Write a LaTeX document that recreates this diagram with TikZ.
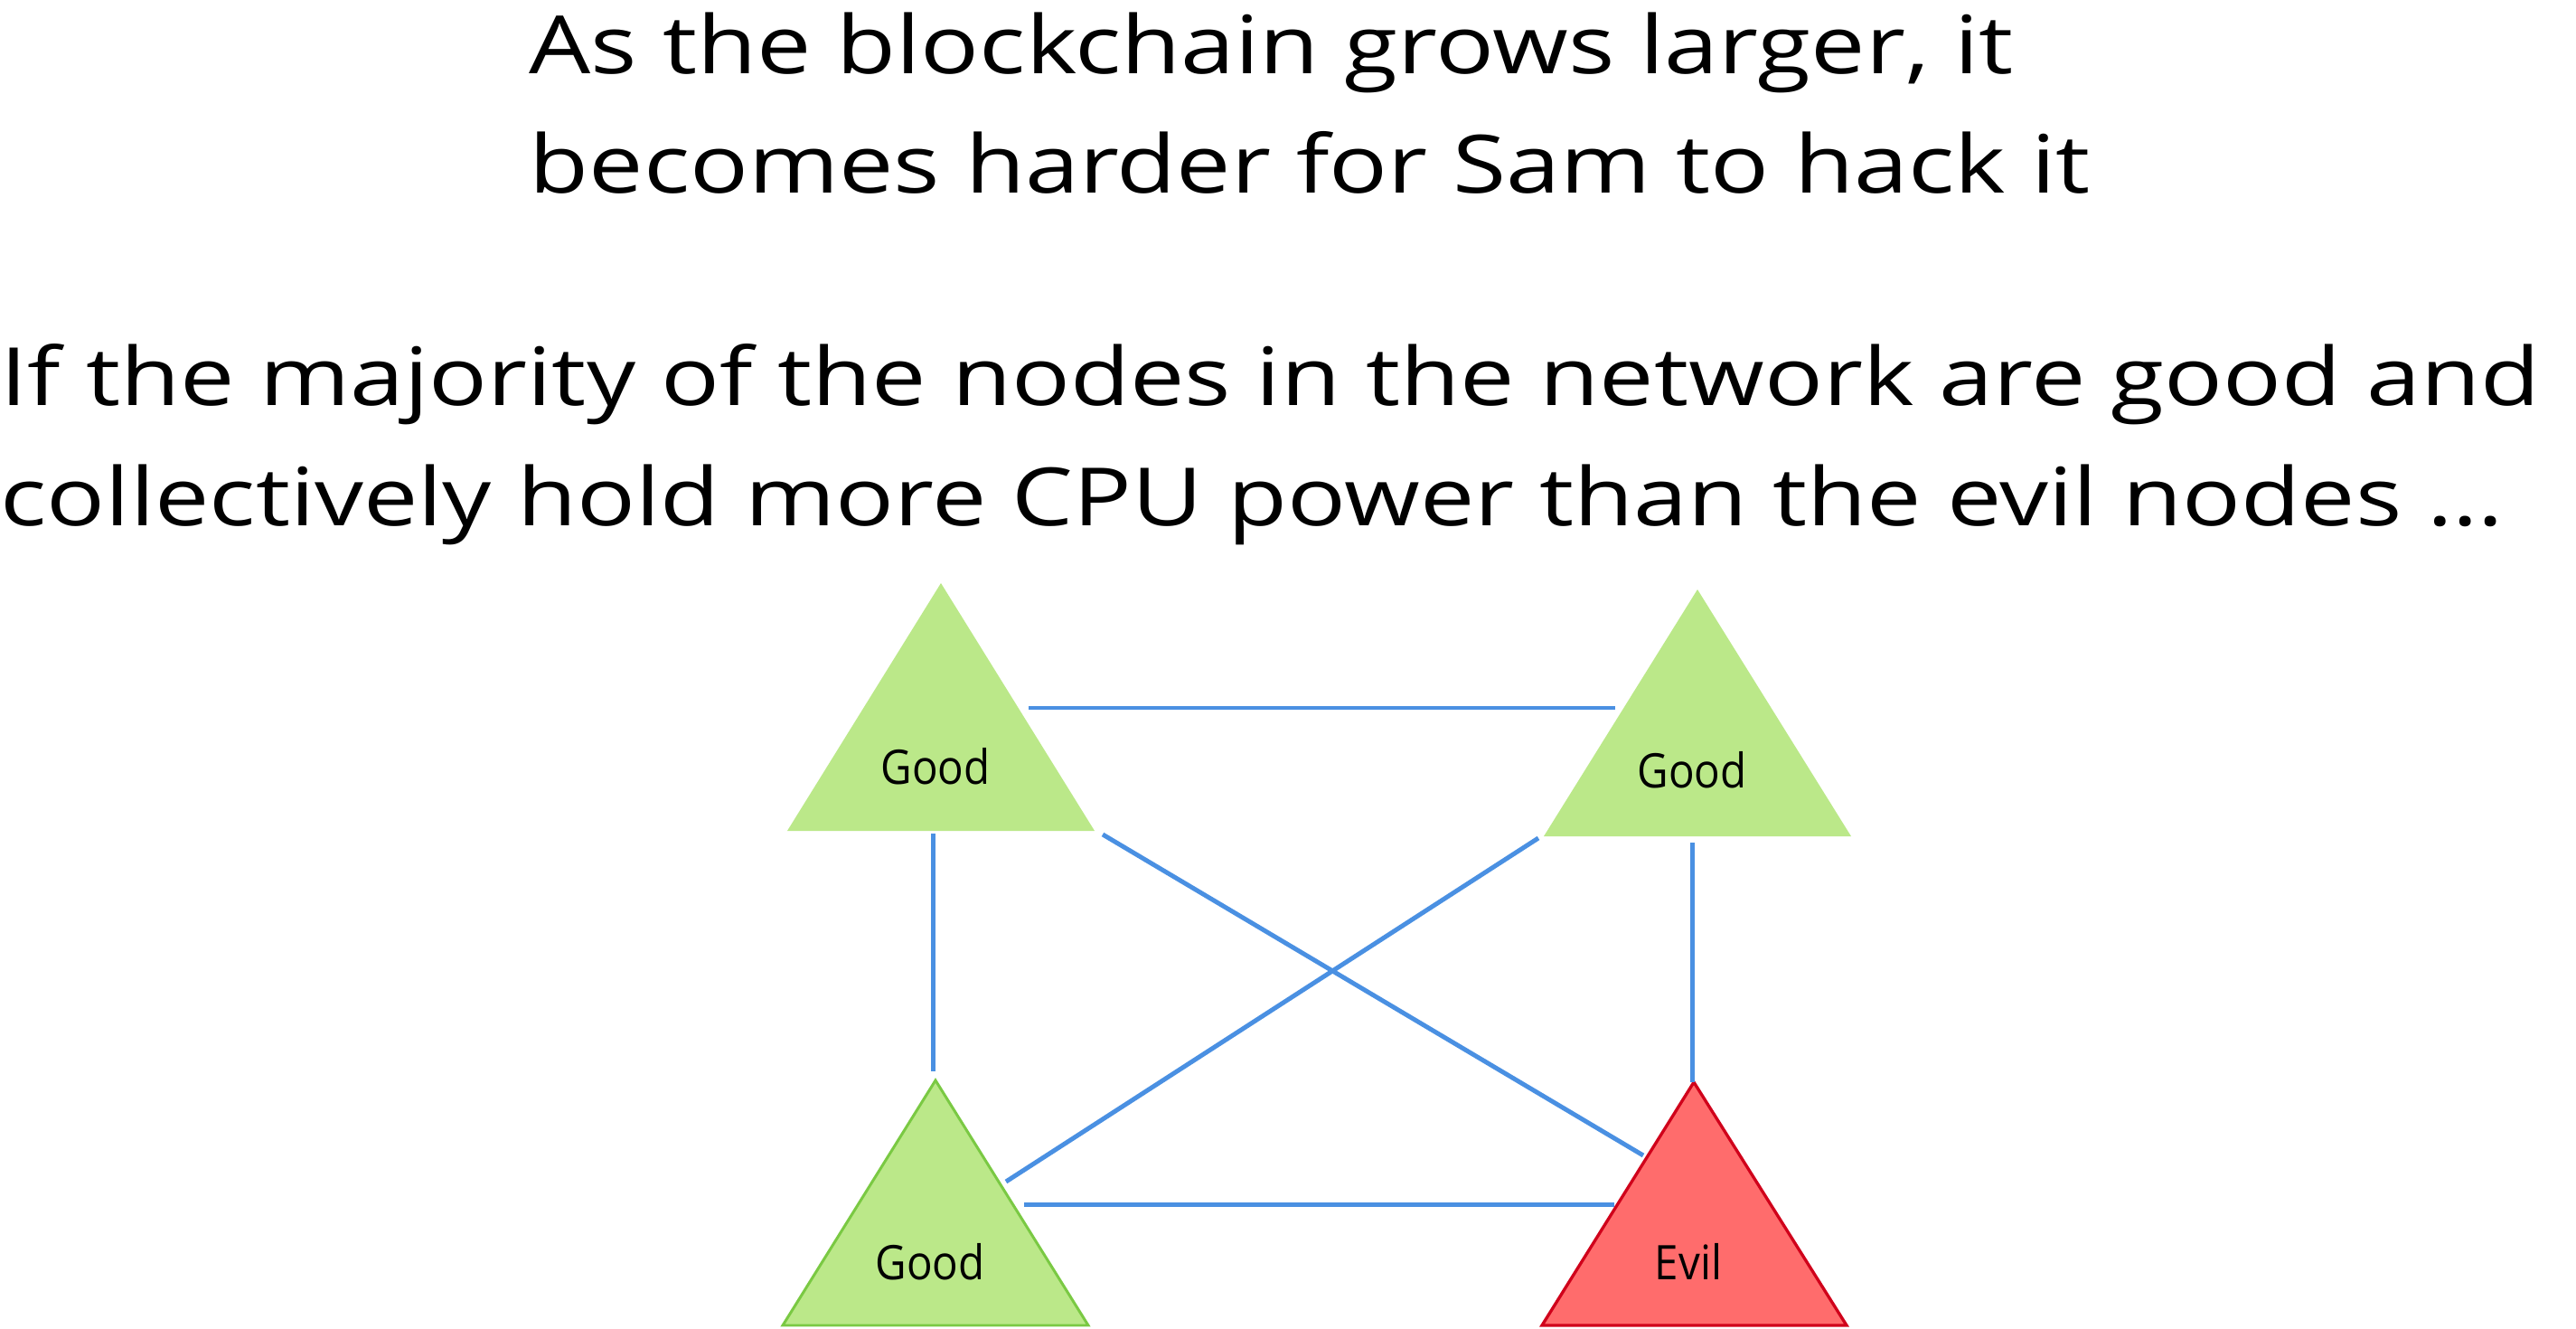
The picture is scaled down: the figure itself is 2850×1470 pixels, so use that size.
\documentclass[tikz,border=0pt]{standalone}
\usepackage{fontspec}
\setmainfont{Open Sans}
\newfontfamily\titlefont[FakeStretch=1.21]{Open Sans}
\newfontfamily\lblfont[FakeStretch=0.9]{Open Sans}
\definecolor{linkblue}{HTML}{4A90E2}
\definecolor{goodgreen}{HTML}{BBE889}
\definecolor{goodedge}{HTML}{7AC943}
\definecolor{evilred}{HTML}{FF6C6C}
\definecolor{eviledge}{HTML}{D0021B}
\begin{document}
\begin{tikzpicture}[x=0.01cm,y=-0.01cm,
  title/.style={font=\titlefont\fontsize{25.3}{30}\selectfont, anchor=base west, inner sep=0pt},
  lbl/.style={font=\lblfont\fontsize{15}{18}\selectfont, anchor=base, inner sep=0pt},
  link/.style={draw=linkblue, line width=1.42pt},
  goodtri/.style={fill=goodgreen},
  goodtriedge/.style={fill=goodgreen, draw=goodedge, line width=0.85pt, line join=miter},
  eviltri/.style={fill=evilred, draw=eviledge, line width=0.95pt, line join=miter}]
\useasboundingbox (0,0) rectangle (2850,1470);
% titles
\node[title] (t1) at (585,82) {As the blockchain grows larger, it};
\node[title] (t2) at (585,214) {becomes harder for Sam to hack it};
\node[title] (t3) at (0,449) {If the majority of the nodes in the network are good and};
\node[title] (t4) at (0,582) {collectively hold more CPU power than the evil nodes …};
% triangles
\path[goodtri] (1041,645) -- (1211,919) -- (871,919) -- cycle;
\path[goodtri] (1878,652) -- (2048,925) -- (1708,925) -- cycle;
\path[goodtriedge] (1035,1195) -- (1204,1466) -- (866,1466) -- cycle;
\path[eviltri] (1874,1197) -- (2043,1466) -- (1706,1466) -- cycle;
% labels
\node[lbl] (g1) at (1035,867) {Good};
\node[lbl] (g2) at (1872,872) {Good};
\node[lbl] (g3) at (1029,1415) {Good};
\node[lbl] (e1) at (1868,1415) {Evil};
% connector ends
\coordinate (a1) at (1138,783); \coordinate (b1) at (1787,783);
\coordinate (a2) at (1032,922); \coordinate (b2) at (1032,1185);
\coordinate (a3) at (1872,932); \coordinate (b3) at (1872,1197);
\coordinate (a4) at (1220,923); \coordinate (b4) at (1818,1278);
\coordinate (a5) at (1702,927); \coordinate (b5) at (1113,1307);
\coordinate (a6) at (1133,1332); \coordinate (b6) at (1786,1332);
\draw[link] (a1) -- (b1);
\draw[link] (a2) -- (b2);
\draw[link] (a3) -- (b3);
\draw[link] (a4) -- (b4);
\draw[link] (a5) -- (b5);
\draw[link] (a6) -- (b6);
\end{tikzpicture}
\end{document}
